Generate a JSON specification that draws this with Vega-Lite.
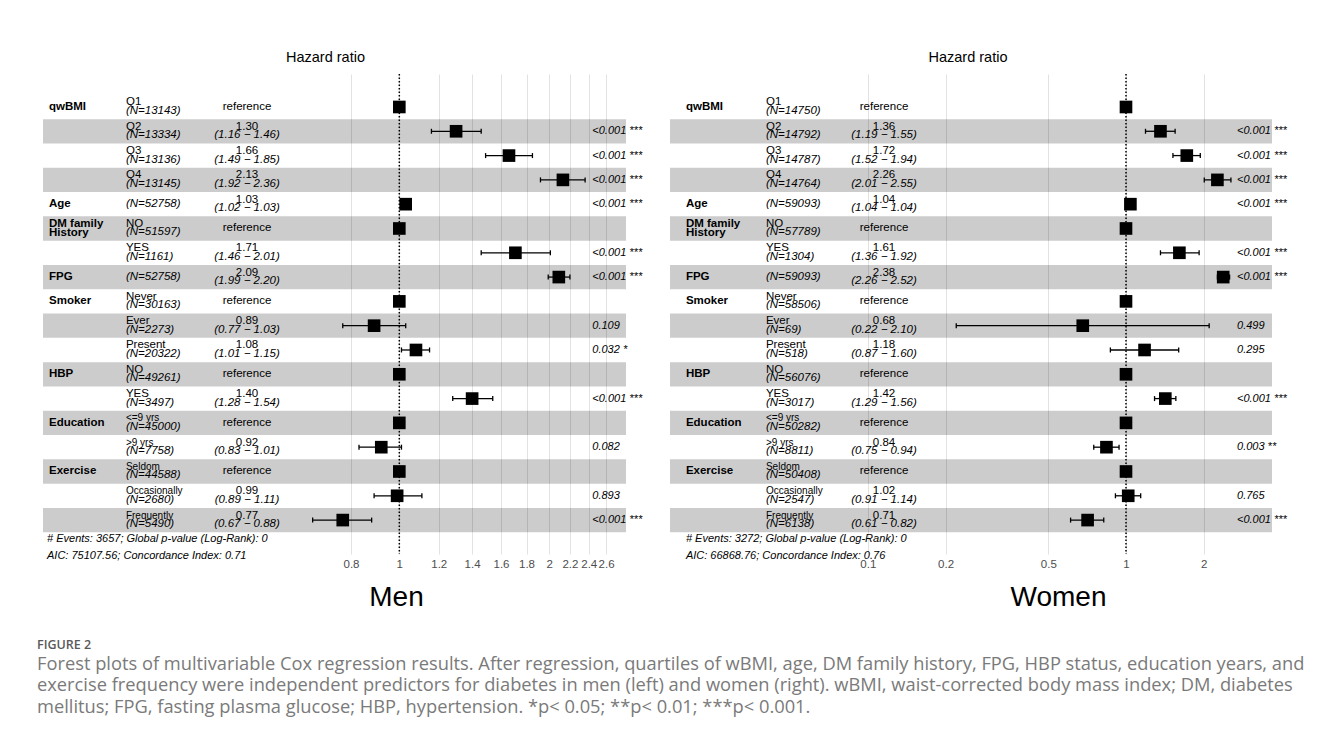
{
  "$schema": "https://vega.github.io/schema/vega-lite/v6.json",
  "background": "white",
  "padding": {"left": 37, "top": 49, "right": 5, "bottom": 5},
  "config": {
    "view": {"stroke": null},
    "font": "Liberation Sans",
    "axis": {"grid": true, "gridColor": "#e2e2e2", "gridWidth": 1, "domain": false, "ticks": false, "labelColor": "#4d4d4d", "labelFontSize": 11.5, "labelFont": "Liberation Sans", "labelPadding": 4, "labelFlush": false, "labelOverlap": false},
    "text": {"font": "Liberation Sans", "color": "black"}
  },
  "datasets": {
    "men": [
      {"k":"qwBMI Q1","var":"qwBMI","lev":"Q1","n":"(N=13143)","hr":1},
      {"k":"qwBMI Q2","lev":"Q2","n":"(N=13334)","hr":1.30,"lo":1.16,"hi":1.46,"ci":"(1.16 − 1.46)","p":"<0.001 ***"},
      {"k":"qwBMI Q3","lev":"Q3","n":"(N=13136)","hr":1.66,"lo":1.49,"hi":1.85,"ci":"(1.49 − 1.85)","p":"<0.001 ***"},
      {"k":"qwBMI Q4","lev":"Q4","n":"(N=13145)","hr":2.13,"lo":1.92,"hi":2.36,"ci":"(1.92 − 2.36)","p":"<0.001 ***"},
      {"k":"Age","var":"Age","n":"(N=52758)","hr":1.03,"lo":1.02,"hi":1.03,"ci":"(1.02 − 1.03)","p":"<0.001 ***"},
      {"k":"DM NO","var":"DM family\nHistory","lev":"NO","n":"(N=51597)","hr":1},
      {"k":"DM YES","lev":"YES","n":"(N=1161)","hr":1.71,"lo":1.46,"hi":2.01,"ci":"(1.46 − 2.01)","p":"<0.001 ***"},
      {"k":"FPG","var":"FPG","n":"(N=52758)","hr":2.09,"lo":1.99,"hi":2.20,"ci":"(1.99 − 2.20)","p":"<0.001 ***"},
      {"k":"Smoker Never","var":"Smoker","lev":"Never","n":"(N=30163)","hr":1},
      {"k":"Smoker Ever","lev":"Ever","n":"(N=2273)","hr":0.89,"lo":0.77,"hi":1.03,"ci":"(0.77 − 1.03)","p":"0.109"},
      {"k":"Smoker Present","lev":"\u00a0Present","n":"(N=20322)","hr":1.08,"lo":1.01,"hi":1.15,"ci":"(1.01 − 1.15)","p":"0.032 *"},
      {"k":"HBP NO","var":"HBP","lev":"NO","n":"(N=49261)","hr":1},
      {"k":"HBP YES","lev":"YES","n":"(N=3497)","hr":1.40,"lo":1.28,"hi":1.54,"ci":"(1.28 − 1.54)","p":"<0.001 ***"},
      {"k":"Edu <=9","var":"Education","lev":"<=9 yrs","n":"(N=45000)","hr":1},
      {"k":"Edu >9","lev":">9 yrs","n":"(N=7758)","hr":0.92,"lo":0.83,"hi":1.01,"ci":"(0.83 − 1.01)","p":"0.082"},
      {"k":"Ex Seldom","var":"Exercise","lev":"Seldom","n":"(N=44588)","hr":1},
      {"k":"Ex Occasionally","lev":"Occasionally","n":"(N=2680)","hr":0.99,"lo":0.89,"hi":1.11,"ci":"(0.89 − 1.11)","p":"0.893"},
      {"k":"Ex Frequently","lev":"Frequently","n":"(N=5490)","hr":0.77,"lo":0.67,"hi":0.88,"ci":"(0.67 − 0.88)","p":"<0.001 ***"}
    ],
    "women": [
      {"k":"qwBMI Q1","var":"qwBMI","lev":"Q1","n":"(N=14750)","hr":1},
      {"k":"qwBMI Q2","lev":"Q2","n":"(N=14792)","hr":1.36,"lo":1.19,"hi":1.55,"ci":"(1.19 − 1.55)","p":"<0.001 ***"},
      {"k":"qwBMI Q3","lev":"Q3","n":"(N=14787)","hr":1.72,"lo":1.52,"hi":1.94,"ci":"(1.52 − 1.94)","p":"<0.001 ***"},
      {"k":"qwBMI Q4","lev":"Q4","n":"(N=14764)","hr":2.26,"lo":2.01,"hi":2.55,"ci":"(2.01 − 2.55)","p":"<0.001 ***"},
      {"k":"Age","var":"Age","n":"(N=59093)","hr":1.04,"lo":1.04,"hi":1.04,"ci":"(1.04 − 1.04)","p":"<0.001 ***"},
      {"k":"DM NO","var":"DM family\nHistory","lev":"NO","n":"(N=57789)","hr":1},
      {"k":"DM YES","lev":"YES","n":"(N=1304)","hr":1.61,"lo":1.36,"hi":1.92,"ci":"(1.36 − 1.92)","p":"<0.001 ***"},
      {"k":"FPG","var":"FPG","n":"(N=59093)","hr":2.38,"lo":2.26,"hi":2.52,"ci":"(2.26 − 2.52)","p":"<0.001 ***"},
      {"k":"Smoker Never","var":"Smoker","lev":"Never","n":"(N=58506)","hr":1},
      {"k":"Smoker Ever","lev":"Ever","n":"(N=69)","hr":0.68,"lo":0.22,"hi":2.10,"ci":"(0.22 − 2.10)","p":"0.499"},
      {"k":"Smoker Present","lev":"\u00a0Present","n":"(N=518)","hr":1.18,"lo":0.87,"hi":1.60,"ci":"(0.87 − 1.60)","p":"0.295"},
      {"k":"HBP NO","var":"HBP","lev":"NO","n":"(N=56076)","hr":1},
      {"k":"HBP YES","lev":"YES","n":"(N=3017)","hr":1.42,"lo":1.29,"hi":1.56,"ci":"(1.29 − 1.56)","p":"<0.001 ***"},
      {"k":"Edu <=9","var":"Education","lev":"<=9 yrs","n":"(N=50282)","hr":1},
      {"k":"Edu >9","lev":">9 yrs","n":"(N=8811)","hr":0.84,"lo":0.75,"hi":0.94,"ci":"(0.75 − 0.94)","p":"0.003 **"},
      {"k":"Ex Seldom","var":"Exercise","lev":"Seldom","n":"(N=50408)","hr":1},
      {"k":"Ex Occasionally","lev":"Occasionally","n":"(N=2547)","hr":1.02,"lo":0.91,"hi":1.14,"ci":"(0.91 − 1.14)","p":"0.765"},
      {"k":"Ex Frequently","lev":"Frequently","n":"(N=6138)","hr":0.71,"lo":0.61,"hi":0.82,"ci":"(0.61 − 0.82)","p":"<0.001 ***"}
    ]
  },
  "title": {
    "text": "FIGURE 2",
    "subtitle": [
      "Forest plots of multivariable Cox regression results. After regression, quartiles of wBMI, age, DM family history, FPG, HBP status, education years, and",
      "exercise frequency were independent predictors for diabetes in men (left) and women (right). wBMI, waist-corrected body mass index; DM, diabetes",
      "mellitus; FPG, fasting plasma glucose; HBP, hypertension. *p< 0.05; **p< 0.01; ***p< 0.001."
    ],
    "orient": "bottom", "anchor": "start", "offset": 28, "dx": -6,
    "font": "Open Sans", "fontSize": 12.5, "fontWeight": 600, "color": "#595959",
    "subtitleFont": "Open Sans", "subtitleFontSize": 18.3, "subtitleColor": "#7a7a7a", "subtitleLineHeight": 21.5, "subtitlePadding": 4
  },
  "spacing": 44,
  "bounds": "flush",
  "resolve": {"scale": {"x": "independent", "y": "independent"}},
  "hconcat": [
    {
      "width": 583, "height": 480,
      "data": {"name": "men"},
      "title": {"text": "Hazard ratio", "fontSize": 14.5, "fontWeight": "normal", "anchor": "middle", "dx": -9, "offset": 8, "color": "black", "font": "Liberation Sans"},
      "layer": [
        {"transform": [{"filter": {"field": "k", "oneOf": ["qwBMI Q2","qwBMI Q4","DM NO","FPG","Smoker Ever","HBP NO","Edu <=9","Ex Seldom","Ex Frequently"]}}],
         "mark": {"type": "rect", "color": "black", "opacity": 0.2},
         "encoding": {"y": {"field": "k", "type": "nominal", "axis": null, "scale": {"domain": ["qwBMI Q1","qwBMI Q2","qwBMI Q3","qwBMI Q4","Age","DM NO","DM YES","FPG","Smoker Never","Smoker Ever","Smoker Present","HBP NO","HBP YES","Edu <=9","Edu >9","Ex Seldom","Ex Occasionally","Ex Frequently"], "paddingInner": 0, "paddingOuter": 0.8765, "align": 0.489}}}},
        {"data": {"values": [{}]},
         "mark": {"type": "rule", "strokeDash": [1.5, 2], "strokeWidth": 1.5, "color": "black"},
         "encoding": {"x": {"datum": 1, "type": "quantitative"}}},
        {"transform": [{"filter": "isValid(datum.lo)"}],
         "mark": {"type": "rule", "strokeWidth": 1.3, "color": "black"},
         "encoding": {"x": {"field": "lo", "type": "quantitative"}, "x2": {"field": "hi"}, "y": {"field": "k", "type": "nominal"}}},
        {"transform": [{"filter": "isValid(datum.lo)"}],
         "mark": {"type": "tick", "size": 5, "thickness": 1.3, "color": "black", "opacity": 1},
         "encoding": {"x": {"field": "lo", "type": "quantitative"}, "y": {"field": "k", "type": "nominal"}}},
        {"transform": [{"filter": "isValid(datum.lo)"}],
         "mark": {"type": "tick", "size": 5, "thickness": 1.3, "color": "black", "opacity": 1},
         "encoding": {"x": {"field": "hi", "type": "quantitative"}, "y": {"field": "k", "type": "nominal"}}},
        {"mark": {"type": "point", "shape": "square", "filled": true, "size": 160, "color": "black", "opacity": 1},
         "encoding": {
           "x": {"field": "hr", "type": "quantitative", "scale": {"type": "log", "domain": [0.1927, 2.8508], "nice": false, "zero": false},
                 "axis": {"values": [0.8, 1, 1.2, 1.4, 1.6, 1.8, 2, 2.2, 2.4, 2.6], "format": "~g", "title": "Men", "titleFontSize": 28, "titleFontWeight": "normal", "titleColor": "black", "titleFont": "Liberation Sans", "titleX": 353, "titleY": 43, "titleBaseline": "middle"}},
           "y": {"field": "k", "type": "nominal"}}},
        {"transform": [{"filter": "isValid(datum.var) && datum.k != 'DM NO'"}],
         "mark": {"type": "text", "align": "left", "baseline": "middle", "fontWeight": "bold", "fontSize": 11.5},
         "encoding": {"x": {"datum": 0.1981, "type": "quantitative"}, "y": {"field": "k", "type": "nominal"}, "text": {"field": "var"}}},
        {"transform": [{"filter": "datum.k == 'DM NO'"}],
         "mark": {"type": "text", "align": "left", "baseline": "middle", "fontWeight": "bold", "fontSize": 11.5, "lineBreak": "\n", "lineHeight": 9.5, "dy": -4.5},
         "encoding": {"x": {"datum": 0.1981, "type": "quantitative"}, "y": {"field": "k", "type": "nominal"}, "text": {"field": "var"}}},
        {"transform": [{"filter": "isValid(datum.lev)"}],
         "mark": {"type": "text", "align": "left", "baseline": "middle", "dy": -4.5},
         "encoding": {"x": {"datum": 0.2827, "type": "quantitative"}, "y": {"field": "k", "type": "nominal"}, "text": {"field": "lev"},
           "size": {"condition": {"test": "indexof(['Seldom','Occasionally','Frequently','<=9 yrs','>9 yrs'], datum.lev) >= 0", "value": 10}, "value": 11.5}}},
        {"transform": [{"filter": "isValid(datum.lev)"}],
         "mark": {"type": "text", "align": "left", "baseline": "middle", "dy": 4, "fontStyle": "italic", "fontSize": 11.5},
         "encoding": {"x": {"datum": 0.2827, "type": "quantitative"}, "y": {"field": "k", "type": "nominal"}, "text": {"field": "n"}}},
        {"transform": [{"filter": "!isValid(datum.lev)"}],
         "mark": {"type": "text", "align": "left", "baseline": "middle", "fontStyle": "italic", "fontSize": 11.5},
         "encoding": {"x": {"datum": 0.2827, "type": "quantitative"}, "y": {"field": "k", "type": "nominal"}, "text": {"field": "n"}}},
        {"transform": [{"filter": "isValid(datum.lo)"}],
         "mark": {"type": "text", "align": "center", "baseline": "middle", "dy": -4.5, "fontSize": 11.5},
         "encoding": {"x": {"datum": 0.4947, "type": "quantitative"}, "y": {"field": "k", "type": "nominal"}, "text": {"field": "hr", "format": ".2f"}}},
        {"transform": [{"filter": "isValid(datum.lo)"}],
         "mark": {"type": "text", "align": "center", "baseline": "middle", "dy": 4, "fontStyle": "italic", "fontSize": 11.5},
         "encoding": {"x": {"datum": 0.4947, "type": "quantitative"}, "y": {"field": "k", "type": "nominal"}, "text": {"field": "ci"}}},
        {"transform": [{"filter": "!isValid(datum.lo)"}],
         "mark": {"type": "text", "align": "center", "baseline": "middle", "fontSize": 11.5},
         "encoding": {"x": {"datum": 0.4947, "type": "quantitative"}, "y": {"field": "k", "type": "nominal"}, "text": {"value": "reference"}}},
        {"transform": [{"filter": "isValid(datum.p)"}],
         "mark": {"type": "text", "align": "left", "baseline": "middle", "fontStyle": "italic", "fontSize": 11},
         "encoding": {"x": {"datum": 2.44, "type": "quantitative"}, "y": {"field": "k", "type": "nominal"}, "text": {"field": "p"}}},
        {"data": {"values": [{"k": "Ex Frequently", "t": "# Events: 3657; Global p-value (Log-Rank): 0\nAIC: 75107.56; Concordance Index: 0.71"}]},
         "mark": {"type": "text", "align": "left", "baseline": "middle", "fontStyle": "italic", "fontSize": 11, "dy": 19, "lineBreak": "\n", "lineHeight": 16.5},
         "encoding": {"x": {"datum": 0.1963, "type": "quantitative"}, "y": {"field": "k", "type": "nominal"}, "text": {"field": "t"}}}
      ]
    },
    {
      "width": 602, "height": 480,
      "data": {"name": "women"},
      "title": {"text": "Hazard ratio", "fontSize": 14.5, "fontWeight": "normal", "anchor": "middle", "dx": -3, "offset": 8, "color": "black", "font": "Liberation Sans"},
      "layer": [
        {"transform": [{"filter": {"field": "k", "oneOf": ["qwBMI Q2","qwBMI Q4","DM NO","FPG","Smoker Ever","HBP NO","Edu <=9","Ex Seldom","Ex Frequently"]}}],
         "mark": {"type": "rect", "color": "black", "opacity": 0.2},
         "encoding": {"y": {"field": "k", "type": "nominal", "axis": null, "scale": {"domain": ["qwBMI Q1","qwBMI Q2","qwBMI Q3","qwBMI Q4","Age","DM NO","DM YES","FPG","Smoker Never","Smoker Ever","Smoker Present","HBP NO","HBP YES","Edu <=9","Edu >9","Ex Seldom","Ex Occasionally","Ex Frequently"], "paddingInner": 0, "paddingOuter": 0.8765, "align": 0.489}}}},
        {"data": {"values": [{}]},
         "mark": {"type": "rule", "strokeDash": [1.5, 2], "strokeWidth": 1.5, "color": "black"},
         "encoding": {"x": {"datum": 1, "type": "quantitative"}}},
        {"transform": [{"filter": "isValid(datum.lo)"}],
         "mark": {"type": "rule", "strokeWidth": 1.3, "color": "black"},
         "encoding": {"x": {"field": "lo", "type": "quantitative"}, "x2": {"field": "hi"}, "y": {"field": "k", "type": "nominal"}}},
        {"transform": [{"filter": "isValid(datum.lo)"}],
         "mark": {"type": "tick", "size": 5, "thickness": 1.3, "color": "black", "opacity": 1},
         "encoding": {"x": {"field": "lo", "type": "quantitative"}, "y": {"field": "k", "type": "nominal"}}},
        {"transform": [{"filter": "isValid(datum.lo)"}],
         "mark": {"type": "tick", "size": 5, "thickness": 1.3, "color": "black", "opacity": 1},
         "encoding": {"x": {"field": "hi", "type": "quantitative"}, "y": {"field": "k", "type": "nominal"}}},
        {"mark": {"type": "point", "shape": "square", "filled": true, "size": 160, "color": "black", "opacity": 1},
         "encoding": {
           "x": {"field": "hr", "type": "quantitative", "scale": {"type": "log", "domain": [0.01712, 3.678], "nice": false, "zero": false},
                 "axis": {"values": [0.1, 0.2, 0.5, 1, 2], "format": "~g", "title": "Women", "titleFontSize": 28, "titleFontWeight": "normal", "titleColor": "black", "titleFont": "Liberation Sans", "titleX": 388, "titleY": 43, "titleBaseline": "middle"}},
           "y": {"field": "k", "type": "nominal"}}},
        {"transform": [{"filter": "isValid(datum.var) && datum.k != 'DM NO'"}],
         "mark": {"type": "text", "align": "left", "baseline": "middle", "fontWeight": "bold", "fontSize": 11.5},
         "encoding": {"x": {"datum": 0.01973, "type": "quantitative"}, "y": {"field": "k", "type": "nominal"}, "text": {"field": "var"}}},
        {"transform": [{"filter": "datum.k == 'DM NO'"}],
         "mark": {"type": "text", "align": "left", "baseline": "middle", "fontWeight": "bold", "fontSize": 11.5, "lineBreak": "\n", "lineHeight": 9.5, "dy": -4.5},
         "encoding": {"x": {"datum": 0.01973, "type": "quantitative"}, "y": {"field": "k", "type": "nominal"}, "text": {"field": "var"}}},
        {"transform": [{"filter": "isValid(datum.lev)"}],
         "mark": {"type": "text", "align": "left", "baseline": "middle", "dy": -4.5},
         "encoding": {"x": {"datum": 0.04029, "type": "quantitative"}, "y": {"field": "k", "type": "nominal"}, "text": {"field": "lev"},
           "size": {"condition": {"test": "indexof(['Seldom','Occasionally','Frequently','<=9 yrs','>9 yrs'], datum.lev) >= 0", "value": 10}, "value": 11.5}}},
        {"transform": [{"filter": "isValid(datum.lev)"}],
         "mark": {"type": "text", "align": "left", "baseline": "middle", "dy": 4, "fontStyle": "italic", "fontSize": 11.5},
         "encoding": {"x": {"datum": 0.04029, "type": "quantitative"}, "y": {"field": "k", "type": "nominal"}, "text": {"field": "n"}}},
        {"transform": [{"filter": "!isValid(datum.lev)"}],
         "mark": {"type": "text", "align": "left", "baseline": "middle", "fontStyle": "italic", "fontSize": 11.5},
         "encoding": {"x": {"datum": 0.04029, "type": "quantitative"}, "y": {"field": "k", "type": "nominal"}, "text": {"field": "n"}}},
        {"transform": [{"filter": "isValid(datum.lo)"}],
         "mark": {"type": "text", "align": "center", "baseline": "middle", "dy": -4.5, "fontSize": 11.5},
         "encoding": {"x": {"datum": 0.1155, "type": "quantitative"}, "y": {"field": "k", "type": "nominal"}, "text": {"field": "hr", "format": ".2f"}}},
        {"transform": [{"filter": "isValid(datum.lo)"}],
         "mark": {"type": "text", "align": "center", "baseline": "middle", "dy": 4, "fontStyle": "italic", "fontSize": 11.5},
         "encoding": {"x": {"datum": 0.1155, "type": "quantitative"}, "y": {"field": "k", "type": "nominal"}, "text": {"field": "ci"}}},
        {"transform": [{"filter": "!isValid(datum.lo)"}],
         "mark": {"type": "text", "align": "center", "baseline": "middle", "fontSize": 11.5},
         "encoding": {"x": {"datum": 0.1155, "type": "quantitative"}, "y": {"field": "k", "type": "nominal"}, "text": {"value": "reference"}}},
        {"transform": [{"filter": "isValid(datum.p)"}],
         "mark": {"type": "text", "align": "left", "baseline": "middle", "fontStyle": "italic", "fontSize": 11},
         "encoding": {"x": {"datum": 2.692, "type": "quantitative"}, "y": {"field": "k", "type": "nominal"}, "text": {"field": "p"}}},
        {"data": {"values": [{"k": "Ex Frequently", "t": "# Events: 3272; Global p-value (Log-Rank): 0\nAIC: 66868.76; Concordance Index: 0.76"}]},
         "mark": {"type": "text", "align": "left", "baseline": "middle", "fontStyle": "italic", "fontSize": 11, "dy": 19, "lineBreak": "\n", "lineHeight": 16.5},
         "encoding": {"x": {"datum": 0.01973, "type": "quantitative"}, "y": {"field": "k", "type": "nominal"}, "text": {"field": "t"}}}
      ]
    }
  ]
}
